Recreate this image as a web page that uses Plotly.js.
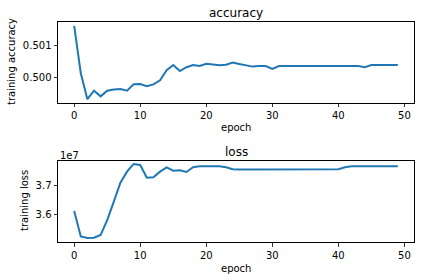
<!DOCTYPE html>
<html><head><meta charset="utf-8">
<script src="https://cdn.plot.ly/plotly-3.0.1.min.js"></script>
<style>html,body{margin:0;padding:0;background:#fff}#c{width:424px;height:280px}</style>
</head><body><div id="c"></div>
<script>
const epochs = Array.from({length: 50}, (_, i) => i);
const accuracy = [0.50163,0.50013,0.49931,0.49958,0.49940,0.49958,0.49962,0.49963,0.49958,0.49978,
  0.49979,0.49972,0.49978,0.49991,0.50023,0.50039,0.50020,0.50032,0.50039,0.50036,
  0.50043,0.50040,0.50038,0.50040,0.50047,0.50042,0.50038,0.50034,0.50036,0.50036,
  0.50027,0.50036,0.50036,0.50036,0.50036,0.50036,0.50036,0.50036,0.50036,0.50036,
  0.50036,0.50036,0.50036,0.50036,0.50032,0.50039,0.50039,0.50039,0.50039,0.50039];
const loss = [3.6125e7,3.5261e7,3.5205e7,3.5216e7,3.5307e7,3.5818e7,3.6443e7,3.7091e7,3.7466e7,3.7727e7,
  3.7693e7,3.7261e7,3.7273e7,3.7466e7,3.7614e7,3.7500e7,3.7511e7,3.7455e7,3.7614e7,3.7648e7,
  3.7648e7,3.7648e7,3.7648e7,3.7614e7,3.7545e7,3.7540e7,3.7540e7,3.7540e7,3.7540e7,3.7540e7,
  3.7540e7,3.7540e7,3.7540e7,3.7540e7,3.7540e7,3.7540e7,3.7540e7,3.7540e7,3.7540e7,3.7540e7,
  3.7545e7,3.7614e7,3.7648e7,3.7648e7,3.7648e7,3.7648e7,3.7650e7,3.7650e7,3.7650e7,3.7650e7];
const xTicks = [0,10,20,30,40,50];
const accTicks = [0.500, 0.501];
const accTickText = ['0.500', '0.501'];
const lossTicks = [3.6e7, 3.7e7];
const lossTickText = ['3.6', '3.7'];

const font = {family: 'DejaVu Sans', size: 10, color: '#000'};
const blue = '#1f77b4';
const axBase = {showline: true, mirror: true, linecolor: '#000', linewidth: 1,
  ticks: 'outside', ticklen: 3.5, tickwidth: 0.8, tickcolor: '#000',
  showgrid: false, zeroline: false, tickfont: font};

const traces = [
  {x: epochs, y: accuracy, type: 'scatter', mode: 'lines', line: {color: blue, width: 2}, xaxis: 'x', yaxis: 'y'},
  {x: epochs, y: loss, type: 'scatter', mode: 'lines', line: {color: blue, width: 2}, xaxis: 'x2', yaxis: 'y2'}
];

function ann(text, x, y, size, extra) {
  return Object.assign({text: text, x: x, y: y, xref: 'paper', yref: 'paper', showarrow: false,
    font: {family: 'DejaVu Sans', size: size, color: '#000'}, xanchor: 'center', yanchor: 'middle'}, extra || {});
}
const H = 280, W = 424;
const layout = {
  width: W, height: H, margin: {l: 0, r: 0, t: 0, b: 0},
  paper_bgcolor: '#fff', plot_bgcolor: '#fff', showlegend: false,
  xaxis: Object.assign({}, axBase, {domain: [58/W, 414/W], range: [-2.45, 51.45], tickvals: xTicks, anchor: 'y'}),
  yaxis: Object.assign({}, axBase, {domain: [1-102.7/H, 1-22.3/H], range: [0.49920, 0.50174], tickvals: accTicks, ticktext: accTickText, anchor: 'x'}),
  xaxis2: Object.assign({}, axBase, {domain: [58/W, 414/W], range: [-2.45, 51.45], tickvals: xTicks, anchor: 'y2'}),
  yaxis2: Object.assign({}, axBase, {domain: [1-242/H, 1-161.3/H], range: [3.5070e7, 3.7818e7], tickvals: lossTicks, ticktext: lossTickText, anchor: 'x2'}),
  annotations: [
    ann('accuracy', 236/W, 1-13/H, 12),
    ann('loss', 236/W, 1-151.5/H, 12),
    ann('epoch', 236/W, 1-128/H, 10),
    ann('epoch', 236/W, 1-268/H, 10),
    ann('training accuracy', 11/W, 1-62/H, 10, {textangle: -90}),
    ann('training loss', 24/W, 1-201/H, 10, {textangle: -90}),
    ann('1e7', 58/W, 1-155/H, 10, {xanchor: 'left'})
  ]
};
Plotly.newPlot('c', traces, layout, {staticPlot: true, displayModeBar: false});
</script></body></html>
